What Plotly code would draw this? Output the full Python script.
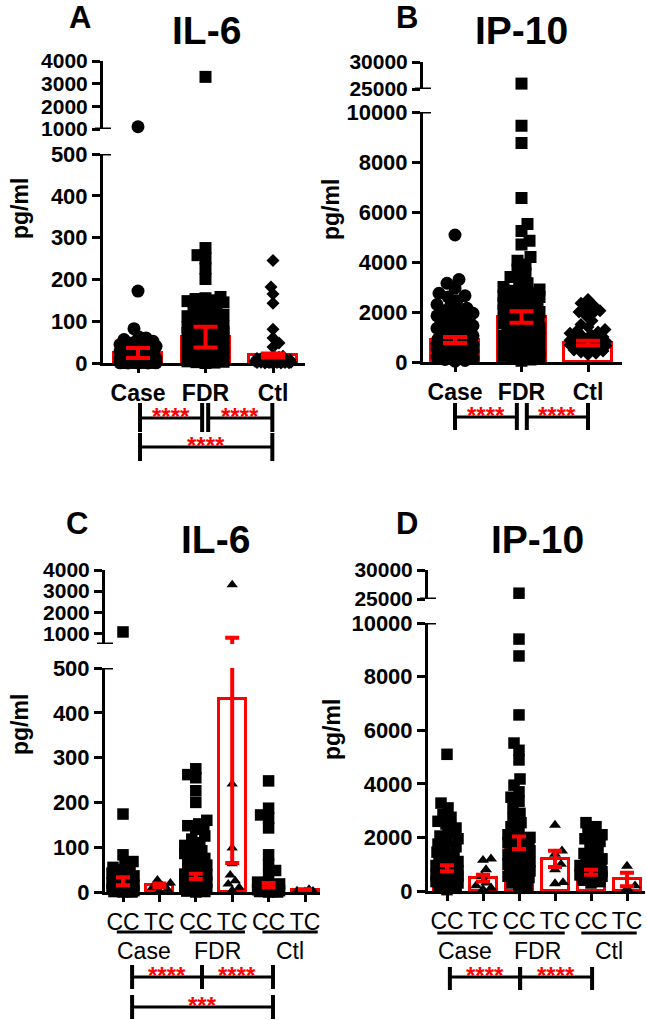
import math
import plotly.graph_objects as go

# ---------------- data (pg/ml) ----------------
groups = ["Case", "FDR", "Ctl"]
sub_labels = ["CC", "TC", "CC", "TC", "CC", "TC"]

# A: IL-6
il6_case = [1100, 172, 82, 62, 60, 56, 52, 50, 48, 46, 44, 42, 40, 38, 36, 34, 32, 30,
            28, 27, 25, 24, 22, 20, 19, 18, 16, 15, 14, 13, 12, 11, 10, 9, 8, 8, 7, 6,
            6, 5, 5, 4, 4, 3, 3, 3, 2, 2, 2, 1, 1, 1, 1, 0.5, 0.5, 0, 0, 0]
il6_fdr = [3300, 275, 258, 250, 226, 201, 158, 155, 153, 150, 148, 146, 145, 142, 140,
           135, 128, 120, 117, 115, 112, 110, 108, 105, 102, 100, 98, 96, 94, 92, 90,
           88, 86, 85, 82, 80, 78, 76, 74, 72, 70, 68, 66, 64, 62, 60, 58, 56, 54, 52,
           50, 48, 46, 45, 43, 42, 40, 38, 36, 35, 33, 32, 30, 28, 26, 25, 24, 22, 20,
           19, 18, 16, 15, 14, 12, 11, 10, 9, 8, 7, 6, 5, 4, 3, 2, 1, 0]
il6_ctl = [245, 182, 165, 143, 81, 60, 48, 38, 16, 14, 13, 12, 11, 10, 9, 8, 8, 7, 7, 6,
           6, 5, 5, 4, 4, 4, 3, 3, 3, 2, 2, 2, 1, 1, 1, 1, 0.5, 0, 0, 0]
il6_mean = [24, 62, 18]
il6_sem = [12, 25, 5]

# B: IP-10
ip10_case = [5080, 3300, 3150, 2950, 2750, 2650, 2600, 2450, 2300, 2200, 2150, 2050,
             2000, 1950, 1900, 1850, 1800, 1750, 1700, 1650, 1600, 1550, 1500, 1450,
             1400, 1350, 1300, 1250, 1200, 1150, 1100, 1050, 1000, 980, 950, 920, 900,
             870, 850, 820, 800, 780, 750, 720, 700, 680, 650, 620, 600, 580, 550, 520,
             500, 450, 400, 350, 300, 250, 200, 150, 100, 60, 30]
ip10_fdr = [26000, 9450, 8760, 6560, 5520, 5240, 4850, 4700, 4200, 4050, 3900, 3700,
            3550, 3400, 3300, 3150, 3000, 2950, 2900, 2850, 2800, 2750, 2700, 2650,
            2600, 2550, 2500, 2450, 2400, 2350, 2300, 2250, 2200, 2150, 2100, 2050,
            2000, 1950, 1900, 1850, 1800, 1750, 1700, 1650, 1600, 1550, 1500, 1450,
            1400, 1350, 1300, 1250, 1200, 1150, 1100, 1050, 1000, 970, 950, 920, 900,
            870, 850, 820, 800, 770, 750, 720, 700, 650, 600, 550, 500, 450, 400, 350,
            300, 250, 200, 150, 100, 50]
ip10_ctl = [2500, 2350, 2250, 2150, 2050, 2000, 1950, 1850, 1650, 1500, 1400, 1300,
            1250, 1200, 1150, 1100, 1050, 1000, 950, 920, 900, 870, 850, 820, 800, 780,
            750, 720, 700, 680, 650, 620, 600, 560, 520, 480, 440, 400, 350, 300]
ip10_mean = [880, 1800, 760]
ip10_sem = [120, 230, 90]

# C: IL-6 by genotype (CC / TC)
il6_case_cc = [1070, 174, 83, 68, 62, 55, 50, 48, 44, 42, 38, 36, 32, 30, 28, 26, 24,
               22, 20, 18, 16, 15, 13, 12, 10, 9, 8, 7, 6, 5, 4, 3, 2, 2, 1, 1, 0, 0]
il6_case_tc = [27, 20, 14, 10, 6, 3]
il6_fdr_cc = [275, 262, 255, 226, 200, 160, 152, 148, 145, 140, 125, 118, 110, 104, 98,
              92, 86, 80, 75, 70, 65, 60, 55, 50, 48, 45, 42, 40, 38, 36, 34, 32, 30,
              28, 26, 24, 22, 20, 18, 17, 15, 14, 12, 11, 10, 8, 7, 6, 5, 4, 3, 2, 1, 0]
il6_fdr_tc = [3300, 241, 98, 63, 38, 25, 18, 10, 4]
il6_ctl_cc = [248, 187, 172, 165, 143, 83, 62, 48, 38, 22, 18, 16, 14, 12, 10, 9, 8,
              7, 6, 5, 4, 3, 3, 2, 2, 1, 1, 0, 0]
il6_ctl_tc = [6, 3, 2, 1]
il6_sub_mean = [24, 15, 35, 430, 15, 4]
il6_sub_sem = [9, 4, 6, 365, 5, 2]

# D: IP-10 by genotype (CC / TC)
ip10_case_cc = [5100, 3280, 3100, 2850, 2750, 2600, 2500, 2350, 2200, 2050, 1950, 1850,
                1750, 1650, 1550, 1450, 1350, 1250, 1150, 1100, 1050, 1000, 950, 900,
                870, 850, 820, 800, 770, 750, 720, 700, 650, 600, 550, 500, 450, 400,
                350, 300, 250, 200, 150, 100, 50]
ip10_case_tc = [1200, 1150, 800, 550, 300, 200, 120, 60]
ip10_fdr_cc = [26000, 9400, 8770, 6570, 5520, 5250, 4890, 4180, 3950, 3700, 3500, 3350,
               3100, 2900, 2700, 2550, 2400, 2250, 2100, 2000, 1950, 1900, 1800, 1750,
               1700, 1600, 1550, 1500, 1400, 1350, 1300, 1200, 1150, 1100, 1000, 950,
               900, 800, 750, 700, 600, 550, 500, 400, 300, 200, 100]
ip10_fdr_tc = [2460, 1500, 1380, 1000, 800, 320, 280]
ip10_ctl_cc = [2550, 2400, 2250, 2100, 2000, 1950, 1850, 1700, 1550, 1400, 1300, 1200,
               1100, 1000, 950, 900, 850, 800, 750, 720, 700, 680, 650, 600, 550, 500,
               450, 400, 350, 300]
ip10_ctl_tc = [930, 200, 100]
ip10_sub_mean = [850, 480, 1800, 1200, 700, 430]
ip10_sub_sem = [110, 130, 230, 300, 90, 250]

# ---------------- layout helpers ----------------
W, H = 647, 1020
FONT = "Liberation Sans"


def fx(p):
    return p / W


def fy(p):
    return 1 - p / H


def swarm(vals, ppu, size, half):
    # simple beeswarm: push each point sideways until it no longer overlaps
    placed = []
    offs = [0.0] * len(vals)
    order = sorted(range(len(vals)), key=lambda k: vals[k])
    for n, i in enumerate(order):
        y = vals[i] * ppu
        best, best_d = 0, -1.0
        for s in range(half + 1):
            cands = [0] if s == 0 else ([s, -s] if n % 2 else [-s, s])
            hit = False
            for c in cands:
                d = min((math.hypot(c - px, y - py) for px, py in placed), default=1e9)
                if d >= size:
                    best, best_d, hit = c, d, True
                    break
                if d > best_d:
                    best, best_d = c, d
            if hit:
                break
        placed.append((best, y))
        offs[i] = best
    return offs


panels = [
    dict(letter="A", title="IL-6", letter_xy=(80, 17), title_xy=(206, 30), ylab_xy=(20, 209),
         ax=103, xend=305, c0=138, step=67.5, barw=48, cap=12, half=18,
         lo=((363, 154), (0, 500), [0, 100, 200, 300, 400, 500]),
         hi=((129, 61), (1000, 4000), [1000, 2000, 3000, 4000]),
         series=[il6_case, il6_fdr, il6_ctl], symbols=["circle", "square", "diamond"],
         sizes=[13, 12, 10], mean=il6_mean, sem=il6_sem, ticktext=groups, xbold=True,
         brackets=[(0.03, 0.95, 418, 403, 432, "****"), (1.04, 1.99, 418, 403, 432, "****"),
                   (0.03, 1.99, 447, 433, 461, "****")]),
    dict(letter="B", title="IP-10", letter_xy=(407, 17), title_xy=(521, 30), ylab_xy=(331, 210),
         ax=423, xend=622, c0=455, step=66.5, barw=48, cap=12, half=18,
         lo=((362, 112), (0, 10000), [0, 2000, 4000, 6000, 8000, 10000]),
         hi=((89, 62), (25000, 30000), [25000, 30000]),
         series=[ip10_case, ip10_fdr, ip10_ctl], symbols=["circle", "square", "diamond"],
         sizes=[13, 12, 10], mean=ip10_mean, sem=ip10_sem, ticktext=groups, xbold=True,
         brackets=[(0.0, 0.93, 417, 403, 430, "****"), (1.08, 2.0, 417, 403, 430, "****")]),
    dict(letter="C", title="IL-6", letter_xy=(77, 523), title_xy=(215, 539), ylab_xy=(20, 725),
         ax=105, xend=320, c0=123, step=36.4, barw=27, cap=7, half=11,
         lo=((892, 668), (0, 500), [0, 100, 200, 300, 400, 500]),
         hi=((644, 570), (500, 4000), [1000, 2000, 3000, 4000]),
         series=[il6_case_cc, il6_case_tc, il6_fdr_cc, il6_fdr_tc, il6_ctl_cc, il6_ctl_tc],
         symbols=["square", "triangle-up"] * 3, sizes=[11.5, 10] * 3,
         mean=il6_sub_mean, sem=il6_sub_sem, ticktext=sub_labels, xbold=False,
         under=(0.59, 0.76, 932, 951),
         brackets=[(0.25, 2.17, 977, 965, 989, "****"), (2.17, 4.12, 977, 965, 989, "****"),
                   (0.25, 4.12, 1007, 995, 1019, "***")]),
    dict(letter="D", title="IP-10", letter_xy=(407, 523), title_xy=(537, 539), ylab_xy=(332, 730),
         ax=428, xend=645, c0=447, step=36, barw=27, cap=7, half=11,
         lo=((891, 623), (0, 10000), [0, 2000, 4000, 6000, 8000, 10000]),
         hi=((599, 570), (25000, 30000), [25000, 30000]),
         series=[ip10_case_cc, ip10_case_tc, ip10_fdr_cc, ip10_fdr_tc, ip10_ctl_cc, ip10_ctl_tc],
         symbols=["square", "triangle-up"] * 3, sizes=[11.5, 10.5] * 3,
         mean=ip10_sub_mean, sem=ip10_sub_sem, ticktext=sub_labels, xbold=False,
         under=(0.5, 0.77, 933, 951),
         brackets=[(0.08, 2.03, 977, 967, 990, "****"), (2.03, 4.03, 977, 967, 990, "****")]),
]

fig = go.Figure()
layout = dict(width=W, height=H, margin=dict(l=0, r=0, t=0, b=0, autoexpand=False),
              showlegend=False, plot_bgcolor="white", paper_bgcolor="white")
shapes, annos = [], []
axis_common = dict(showline=True, linecolor="black", linewidth=3, ticks="outside",
                   tickwidth=3, tickcolor="black", showgrid=False, zeroline=False,
                   fixedrange=True, automargin=False, tickformat="d")


def label(text, x, y, size, color="black", bold=True, xref="paper", angle=0):
    return dict(text=text, x=x, y=y, xref=xref, yref="paper", showarrow=False,
                xanchor="center", yanchor="middle", textangle=angle,
                font=dict(family=FONT, size=size, color=color,
                          weight="bold" if bold else "normal"))


for i, p in enumerate(panels):
    xk, ylk, yhk = i + 1, 2 * i + 1, 2 * i + 2
    xr = "x" if xk == 1 else f"x{xk}"
    ylr = "y" if ylk == 1 else f"y{ylk}"
    yhr = f"y{yhk}"
    n = len(p["series"])
    (lb, lt), lrng, lticks = p["lo"]
    (hb, ht), hrng, hticks = p["hi"]

    layout["xaxis" if xk == 1 else f"xaxis{xk}"] = dict(
        axis_common, domain=[fx(p["ax"]), fx(p["xend"])],
        range=[(p["ax"] - p["c0"]) / p["step"], (p["xend"] - p["c0"]) / p["step"]],
        anchor=ylr, tickvals=list(range(n)), ticktext=p["ticktext"], ticklen=7,
        tickfont=dict(family=FONT, size=23, color="black",
                      weight="bold" if p["xbold"] else "normal"))
    layout["yaxis" if ylk == 1 else f"yaxis{ylk}"] = dict(
        axis_common, domain=[fy(lb), fy(lt)], range=list(lrng), anchor=xr,
        tickvals=lticks, ticklen=8,
        tickfont=dict(family=FONT, size=22, color="black", weight="bold"))
    layout[f"yaxis{yhk}"] = dict(
        axis_common, domain=[fy(hb), fy(ht)], range=list(hrng), anchor=xr,
        tickvals=hticks, ticklen=8,
        tickfont=dict(family=FONT, size=21, color="black", weight="bold"))

    # break marks at the segment ends
    for yv, yref in ((lrng[1], ylr), (hrng[0], yhr)):
        shapes.append(dict(type="line", xref="paper", yref=yref, x0=fx(p["ax"] - 8),
                           x1=fx(p["ax"] + 8), y0=yv, y1=yv,
                           line=dict(color="black", width=3)))

    # bars (mean)
    fig.add_trace(go.Bar(x=list(range(n)), y=p["mean"], width=p["barw"] / p["step"],
                         marker=dict(color="white", line=dict(color="red", width=3)),
                         xaxis=xr, yaxis=ylr, hoverinfo="skip"))

    # individual points
    ppu = (lb - lt) / (lrng[1] - lrng[0])
    for j, vals in enumerate(p["series"]):
        offs = swarm(vals, ppu, p["sizes"][j] * 0.72, p["half"])
        xs = [j + o / p["step"] for o in offs]
        low = [(x, v) for x, v in zip(xs, vals) if v <= lrng[1]]
        high = [(x, v) for x, v in zip(xs, vals) if v >= hrng[0]]
        mk = dict(symbol=p["symbols"][j], size=p["sizes"][j], color="black")
        for pts, yref in ((low, ylr), (high, yhr)):
            if pts:
                fig.add_trace(go.Scatter(x=[a for a, _ in pts], y=[b for _, b in pts],
                                         mode="markers", marker=mk, cliponaxis=False,
                                         xaxis=xr, yaxis=yref, hoverinfo="skip"))

    # SEM error bars on top
    for yref in (ylr, yhr):
        fig.add_trace(go.Scatter(x=list(range(n)), y=p["mean"], mode="markers",
                                 marker=dict(size=0.1, color="red"),
                                 error_y=dict(type="data", array=p["sem"], color="red",
                                              thickness=4, width=p["cap"]),
                                 xaxis=xr, yaxis=yref, hoverinfo="skip"))

    # titles
    annos.append(label(p["letter"], fx(p["letter_xy"][0]), fy(p["letter_xy"][1]), 31))
    annos.append(label(p["title"], fx(p["title_xy"][0]), fy(p["title_xy"][1]), 39))
    annos.append(label("pg/ml", fx(p["ylab_xy"][0]), fy(p["ylab_xy"][1]), 23, angle=-90))

    # group underlines for the genotype panels
    if "under" in p:
        uc, uh, uy, ty = p["under"]
        for g, name in enumerate(groups):
            cx = 2 * g + uc
            shapes.append(dict(type="line", xref=xr, yref="paper", x0=cx - uh, x1=cx + uh,
                               y0=fy(uy), y1=fy(uy), line=dict(color="black", width=3)))
            annos.append(label(name, cx, fy(ty), 23, bold=False, xref=xr))

    # significance brackets
    for xa, xb, yl, yt, yb, stars in p["brackets"]:
        shapes.append(dict(type="line", xref=xr, yref="paper", x0=xa, x1=xb,
                           y0=fy(yl), y1=fy(yl), line=dict(color="black", width=3)))
        for xv in (xa, xb):
            shapes.append(dict(type="line", xref=xr, yref="paper", x0=xv, x1=xv,
                               y0=fy(yt), y1=fy(yb), line=dict(color="black", width=4)))
        annos.append(label(stars, (xa + xb) / 2, fy(yl - 2), 24, color="red", xref=xr))

layout["shapes"] = shapes
layout["annotations"] = annos
layout["bargap"] = 0
fig.update_layout(**layout)
fig.write_html("out.html", config={"displayModeBar": False},
               post_script="document.body.style.margin='0px';")
